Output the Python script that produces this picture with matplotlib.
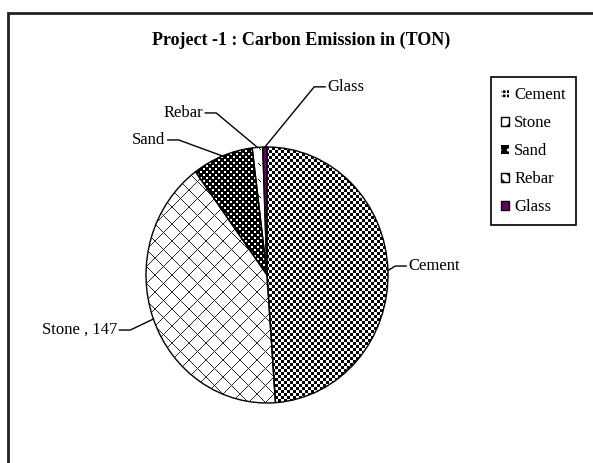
import matplotlib
matplotlib.use("Agg")
import matplotlib.pyplot as plt
import numpy as np
from matplotlib.patches import Patch, Rectangle

plt.rcParams['font.family'] = ['Liberation Serif', 'DejaVu Serif']

# data
materials = ['Cement', 'Stone', 'Sand', 'Rebar', 'Glass']
emissions = [175, 147, 29, 5, 2]
show_value = [False, True, False, False, False]
title = 'Project -1 : Carbon Emission in (TON)'

# label anchors (pie data units) and which side the text sits on
label_pos = [(1.17, 0.07), (-1.24, -0.43), (-0.84, 1.055), (-0.53, 1.266), (0.50, 1.47)]
label_ha = ['left', 'right', 'right', 'right', 'left']

W, H = 593, 463
fig = plt.figure(figsize=(W / 100, H / 100), dpi=100)

# outer chart frame (cut by the image edge on the right and bottom)
fig.add_artist(Rectangle((8 / W, -0.1), 1.2, 1.1 - 13 / H, transform=fig.transFigure,
                         fill=False, lw=2, ec='#222222'))

fig.text(301 / W, 1 - 40 / H, title, ha='center', va='center',
         fontsize=13, fontweight='bold')

# pie area in pixels: centre (267, 275), radii 121 x 128
cx, cy, rx, ry = 267, 275, 121, 128
ax = fig.add_axes([(cx - rx) / W, (H - cy - ry) / H, 2 * rx / W, 2 * ry / H])

wedges, _ = ax.pie(emissions, startangle=90, counterclock=False, radius=1,
                   wedgeprops=dict(facecolor='none', edgecolor='black', linewidth=1))
for w in wedges:
    w.set_zorder(3)

# pixel textures, one pixel per screen pixel
ii, jj = np.indices((2 * ry, 2 * rx))
checker = ((ii // 3 + jj // 3) % 2).astype(float)
dots = np.zeros_like(checker)
dots[((ii % 6 < 2) & (jj % 6 < 2)) | (((ii + 3) % 6 < 2) & ((jj + 3) % 6 < 2))] = 1.0
dashes = np.ones_like(checker)
dashes[((ii % 8) == (jj % 8)) & ((ii % 8) < 3) & ((ii // 8 + jj // 8) % 2 == 0)] = 0.0
cross = np.ones_like(checker)
cross[((ii + jj) % 17 == 0) | ((ii - jj) % 17 == 0)] = 0.15

textures = {'Cement': checker, 'Stone': cross, 'Sand': dots, 'Rebar': dashes}
for w, name in zip(wedges, materials):
    if name in textures:
        im = ax.imshow(textures[name], cmap='gray', vmin=0, vmax=1, extent=[-1, 1, -1, 1],
                       interpolation='nearest', aspect='auto', zorder=2)
        im.set_clip_path(w)
    elif name == 'Glass':
        w.set_facecolor('#660066')

ax.set_xlim(-1, 1)
ax.set_ylim(-1, 1)
ax.set_aspect('auto')
ax.axis('off')

# data labels with Excel style leader lines
for w, name, val, flag, (tx, ty), ha in zip(wedges, materials, emissions, show_value,
                                            label_pos, label_ha):
    mid = np.deg2rad((w.theta1 + w.theta2) / 2)
    ex, ey = np.cos(mid), np.sin(mid)
    side = 1 if ha == 'left' else -1
    gap = 0.02 * side
    elbow = 0.11 * side
    ax.plot([ex, tx - elbow, tx - gap], [ey, ty, ty], color='black', lw=1,
            clip_on=False, zorder=4)
    text = f'{name} , {val}' if flag else name
    ax.text(tx, ty, text, ha=ha, va='center', fontsize=12, clip_on=False)

# legend
handles = []
with plt.rc_context({'hatch.color': 'white'}):
    handles.append(Patch(facecolor='black', hatch='++++'))
handles.append(Patch(facecolor='white', edgecolor='black', hatch='//'))
with plt.rc_context({'hatch.color': 'white'}):
    handles.append(Patch(facecolor='black', hatch='..'))
handles.append(Patch(facecolor='white', edgecolor='black', hatch='\\\\\\'))
handles.append(Patch(facecolor='#660066', edgecolor='black'))

leg = fig.legend(handles, materials, loc='upper left',
                 bbox_to_anchor=(491 / W, 1 - 77 / H), fontsize=12,
                 handlelength=0.45, handleheight=0.45, handletextpad=0.35,
                 labelspacing=0.72, borderpad=0.6, borderaxespad=0,
                 fancybox=False, framealpha=1)
leg.get_frame().set_edgecolor('black')
leg.get_frame().set_linewidth(1.2)

fig.savefig('out.png', dpi=100)
